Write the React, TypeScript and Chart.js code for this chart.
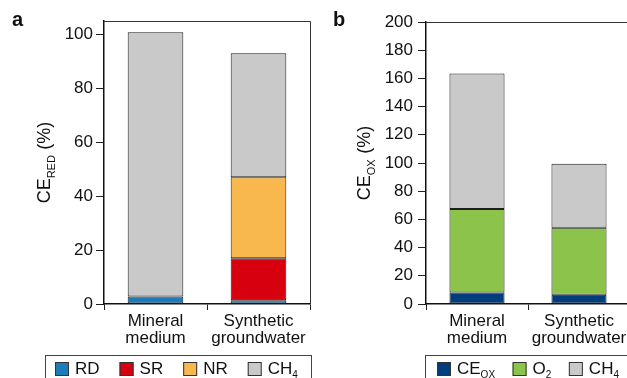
import React, { useEffect, useRef } from "react";
import { Chart, registerables } from "chart.js";
Chart.register(...registerables);

// ---------- data ----------
const categories = [["Mineral", "medium"], ["Synthetic", "groundwater"]];

const redSeriesNames = ["RD", "SR", "NR", "CH_{4}"];
const redRD = [2.8, 1.4];
const redSR = [null, 15.6];
const redNR = [null, 30];
const redCH4 = [98, 46];
const redAxisMax = 105;

const oxSeriesNames = ["CE_{OX}", "O_{2}", "CH_{4}"];
const oxCE = [8.2, 6.5];
const oxO2 = [59.2, 47.5];
const oxCH4 = [96, 45.5];
const oxAxisMax = 200;

const tickStep = 20;

// ---------- styles ----------
const FONT = "'Liberation Sans', Arial, sans-serif";
const INK = "#111";

function parseParts(text: string): { t: string; sub: boolean }[] {
  const parts: { t: string; sub: boolean }[] = [];
  const re = /_\{([^}]*)\}/g;
  let last = 0;
  let m: RegExpExecArray | null;
  while ((m = re.exec(text))) {
    if (m.index > last) parts.push({ t: text.slice(last, m.index), sub: false });
    parts.push({ t: m[1], sub: true });
    last = m.index + m[0].length;
  }
  if (last < text.length) parts.push({ t: text.slice(last), sub: false });
  return parts;
}

function drawSubText(ctx: CanvasRenderingContext2D, text: string, x: number, y: number, size: number, subSize: number, subDy: number, draw = true) {
  let cx = x;
  for (const p of parseParts(text)) {
    ctx.font = `${p.sub ? subSize : size}px ${FONT}`;
    if (draw) ctx.fillText(p.t, cx, y + (p.sub ? subDy : 0));
    cx += ctx.measureText(p.t).width + (p.sub ? 0.5 : 0);
  }
  return cx - x;
}

function makePanelPlugin(cfg: {
  letter: string; letterX: number; title: string; titleX: number;
  legendLeft: number; legendRight: number; legendTop: number; legendStart: number; legendGap: number;
}) {
  return {
    id: "panelDecor" + cfg.letter,
    afterDraw(chart: any) {
      const ctx: CanvasRenderingContext2D = chart.ctx;
      const a = chart.chartArea;
      ctx.save();
      // frame top & right
      ctx.strokeStyle = "#333";
      ctx.lineWidth = 1;
      ctx.beginPath();
      ctx.moveTo(a.left, Math.round(a.top) + 0.5);
      ctx.lineTo(Math.round(a.right) + 0.5, Math.round(a.top) + 0.5);
      ctx.lineTo(Math.round(a.right) + 0.5, a.bottom);
      ctx.stroke();

      // panel letter
      ctx.fillStyle = INK;
      ctx.textBaseline = "alphabetic";
      ctx.textAlign = "left";
      ctx.font = `bold 20px ${FONT}`;
      ctx.fillText(cfg.letter, cfg.letterX, 26);

      // y title rotated with subscript
      const cy = (a.top + a.bottom) / 2;
      ctx.save();
      ctx.translate(cfg.titleX, cy);
      ctx.rotate(-Math.PI / 2);
      const w = drawSubText(ctx, cfg.title, 0, 0, 18, 11, 5, false);
      drawSubText(ctx, cfg.title, -w / 2, 0, 18, 11, 5, true);
      ctx.restore();

      // legend box
      ctx.strokeStyle = "#444";
      ctx.lineWidth = 1;
      ctx.strokeRect(cfg.legendLeft + 0.5, cfg.legendTop + 0.5, cfg.legendRight - cfg.legendLeft, 40);
      let x = cfg.legendStart;
      chart.data.datasets.forEach((ds: any) => {
        ctx.fillStyle = ds.backgroundColor;
        ctx.fillRect(x, cfg.legendTop + 7, 14, 14);
        ctx.strokeStyle = "#333";
        ctx.strokeRect(x + 0.5, cfg.legendTop + 7.5, 13, 13);
        ctx.fillStyle = INK;
        const tw = drawSubText(ctx, ds.label, x + 20, cfg.legendTop + 18.5, 17, 10, 4, true);
        x += 20 + tw + cfg.legendGap;
      });
      ctx.restore();
    },
  };
}

function baseOptions(max: number, top: number, yWidth: number, yPad: number) {
  const font = { family: FONT, size: 17 };
  return {
    responsive: false,
    animation: false,
    layout: { padding: { top, right: 10, bottom: 0, left: 0 } },
    plugins: { legend: { display: false }, tooltip: { enabled: false } },
    scales: {
      x: {
        stacked: true,
        offset: true,
        grid: { offset: true, drawOnChartArea: false, drawTicks: true, tickLength: 6, color: "#222", lineWidth: 1 },
        border: { display: true, color: INK, width: 1.5 },
        ticks: { font: { ...font, lineHeight: 1.05 }, color: INK, padding: 2, maxRotation: 0, minRotation: 0, autoSkip: false },
        afterFit: (s: any) => { s.height = 74; },
      },
      y: {
        stacked: true,
        min: 0,
        max,
        ticks: { stepSize: tickStep, includeBounds: false, font, color: INK, padding: yPad },
        grid: { drawOnChartArea: false, drawTicks: true, tickLength: 8, color: "#222", lineWidth: 1 },
        border: { display: true, color: INK, width: 1.5 },
        afterFit: (s: any) => { s.width = yWidth; },
      },
    },
  };
}

const barStyle = { borderColor: "#1e1e1e", borderWidth: 1, borderSkipped: false, barPercentage: 0.54, categoryPercentage: 1 };

function Panel(props: { which: "a" | "b" }) {
  const ref = useRef<HTMLCanvasElement>(null);
  useEffect(() => {
    if (!ref.current) return;
    let chart: any;
    if (props.which === "a") {
      chart = new Chart(ref.current, {
        type: "bar",
        data: {
          labels: categories,
          datasets: [
            { label: redSeriesNames[0], data: redRD, backgroundColor: "#1b7cb9", ...barStyle },
            { label: redSeriesNames[1], data: redSR, backgroundColor: "#d7000f", ...barStyle },
            { label: redSeriesNames[2], data: redNR, backgroundColor: "#f8b84e", ...barStyle },
            { label: redSeriesNames[3], data: redCH4, backgroundColor: "#c8c9c8", ...barStyle },
          ],
        } as any,
        options: baseOptions(redAxisMax, 21, 104, 3) as any,
        plugins: [makePanelPlugin({ letter: "a", letterX: 12, title: "CE_{RED} (%)", titleX: 50, legendLeft: 45, legendRight: 311, legendTop: 355, legendStart: 55, legendGap: 20 })],
      });
    } else {
      chart = new Chart(ref.current, {
        type: "bar",
        data: {
          labels: categories,
          datasets: [
            { label: oxSeriesNames[0], data: oxCE, backgroundColor: "#003d7c", ...barStyle },
            { label: oxSeriesNames[1], data: oxO2, backgroundColor: "#8cc34b", ...barStyle },
            { label: oxSeriesNames[2], data: oxCH4, backgroundColor: "#c8c9c8", ...barStyle },
          ],
        } as any,
        options: baseOptions(oxAxisMax, 22, 106, 5) as any,
        plugins: [makePanelPlugin({ letter: "b", letterX: 13, title: "CE_{OX} (%)", titleX: 50, legendLeft: 105, legendRight: 330, legendTop: 355, legendStart: 117, legendGap: 17 })],
      });
    }
    return () => chart.destroy();
  }, [props.which]);
  return <canvas ref={ref} width={320} height={378} style={{ display: "block" }} />;
}

export default function App() {
  return (
    <div style={{ position: "fixed", left: 0, top: 0, width: 627, height: 378, overflow: "hidden", background: "#fff" }}>
      <div style={{ position: "absolute", left: 0, top: 0, width: 320, height: 378 }}>
        <Panel which="a" />
      </div>
      <div style={{ position: "absolute", left: 320, top: 0, width: 320, height: 378 }}>
        <Panel which="b" />
      </div>
    </div>
  );
}
